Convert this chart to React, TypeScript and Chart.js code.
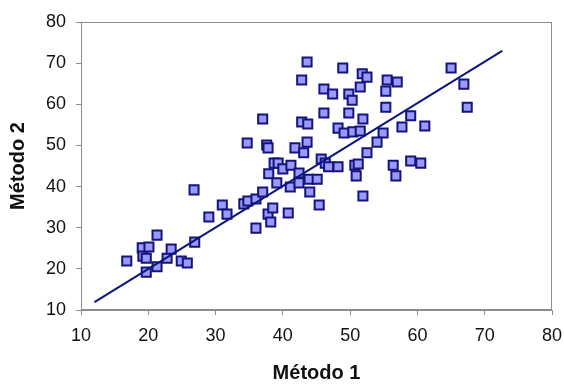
import React, { useEffect, useRef } from "react";
import { Chart, registerables } from "chart.js";

Chart.register(...registerables);

// Método 1 values (x) and Método 2 values (y)
const metodo1: number[] = [
  16.8, 19.1, 19.2, 19.7, 20.1, 21.3, 19.7, 21.3, 22.8, 23.4, 24.9, 25.8, 26.9, 26.8, 29.0,
  31.0, 31.7, 34.2, 34.8, 36.0, 37.0, 36.0, 37.8, 38.5, 38.2, 40.8, 37.9, 39.1, 38.7, 39.3,
  40.0, 41.2, 41.1, 42.4, 42.4, 44.0, 43.9, 45.1, 45.4, 41.8, 43.1, 43.6, 37.6, 37.8, 34.7,
  37.0, 42.8, 43.7, 42.8, 43.6, 45.7, 46.3, 46.8, 48.2, 50.7, 51.2, 50.9, 52.5, 56.4, 56.8,
  59.0, 60.5, 51.9, 48.9, 51.8, 52.5, 51.5, 55.5, 57.0, 55.3, 65.0, 66.9, 67.4, 46.1, 47.4,
  49.8, 50.3, 46.1, 49.8, 51.9, 55.3, 59.0, 57.7, 61.1, 48.2, 49.1, 50.4, 51.5, 54.9, 54.0,
];
const metodo2: number[] = [
  21.9, 25.1, 23.1, 22.6, 25.3, 28.2, 19.2, 20.5, 22.6, 24.8, 21.9, 21.4, 26.5, 39.2, 32.6,
  35.5, 33.3, 35.8, 36.5, 37.0, 38.7, 29.9, 33.3, 34.8, 31.4, 33.6, 43.1, 40.9, 45.7, 45.7,
  44.3, 45.2, 39.9, 43.3, 40.9, 38.7, 41.8, 41.8, 35.5, 49.4, 48.2, 50.8, 50.1, 49.4, 50.6,
  56.4, 55.7, 55.2, 65.9, 70.3, 46.7, 45.7, 44.8, 44.8, 45.2, 45.5, 42.6, 48.2, 45.2, 42.6,
  46.2, 45.7, 37.7, 68.8, 67.4, 66.6, 64.2, 65.9, 65.4, 63.2, 68.8, 64.9, 59.3, 63.7, 62.5,
  62.5, 61.0, 57.9, 57.9, 56.4, 59.3, 57.2, 54.5, 54.7, 54.2, 53.0, 53.3, 53.5, 53.0, 50.8,
];
// fitted line end points
const lineX: number[] = [12, 72.6];
const lineY: number[] = [11.9, 73];

const axisTicks: number[] = [10, 20, 30, 40, 50, 60, 70, 80];

const framePlugin = {
  id: "frame",
  beforeDatasetsDraw(chart: any) {
    const { ctx, chartArea } = chart;
    ctx.save();
    ctx.strokeStyle = "#8c8c8c";
    ctx.lineWidth = 1;
    ctx.strokeRect(chartArea.left + 0.5, chartArea.top + 0.5, chartArea.right - chartArea.left - 1, chartArea.bottom - chartArea.top - 1);
    ctx.restore();
  },
};

export default function App() {
  const ref = useRef<HTMLCanvasElement | null>(null);
  useEffect(() => {
    document.body.style.margin = "0";
    if (!ref.current) return;
    const pts = metodo1.map((x, i) => ({ x, y: metodo2[i] }));
    const linePts = lineX.map((x, i) => ({ x, y: lineY[i] }));
    const tickFont = { family: "'Liberation Sans', Arial, sans-serif", size: 18 };
    const titleFont = { family: "'Liberation Sans', Arial, sans-serif", size: 20, weight: "bold" as const };
    const chart = new Chart(ref.current, {
      type: "scatter",
      data: {
        datasets: [
          {
            label: "line",
            data: linePts,
            showLine: true,
            borderColor: "#0b1580",
            borderWidth: 2,
            pointRadius: 0,
            fill: false,
          },
          {
            label: "data",
            data: pts,
            pointStyle: "rect",
            pointRadius: 6.4,
            pointBorderWidth: 2,
            backgroundColor: "#9999ff",
            borderColor: "#14147a",
            pointHoverRadius: 6.4,
          },
        ],
      },
      options: {
        animation: false,
        responsive: false,
        events: [],
        layout: { padding: { top: 22, right: 12, left: 0, bottom: 0 } },
        plugins: { legend: { display: false }, tooltip: { enabled: false } },
        scales: {
          x: {
            type: "linear",
            min: 10,
            max: 80,
            afterBuildTicks: (s: any) => { s.ticks = axisTicks.map((v) => ({ value: v })); },
            afterFit: (s: any) => { s.height = 75; s.paddingLeft = 0; s.paddingRight = 0; },
            grid: { drawOnChartArea: false, drawTicks: true, tickLength: 5, color: "#8c8c8c" },
            border: { display: true, color: "#8c8c8c" },
            ticks: { color: "#111", font: tickFont, padding: 10, maxRotation: 0, autoSkip: false },
            title: { display: true, text: "Método 1", color: "#111", font: titleFont, padding: { top: 0, bottom: 0 } },
          },
          y: {
            type: "linear",
            min: 10,
            max: 80,
            afterBuildTicks: (s: any) => { s.ticks = axisTicks.map((v) => ({ value: v })); },
            afterFit: (s: any) => { s.width = 81; s.paddingTop = 0; s.paddingBottom = 0; },
            grid: { drawOnChartArea: false, drawTicks: true, tickLength: 5, color: "#8c8c8c" },
            border: { display: true, color: "#8c8c8c" },
            ticks: { color: "#111", font: tickFont, padding: 10, autoSkip: false },
            title: { display: true, text: "Método 2", color: "#111", font: titleFont, padding: { top: 6, bottom: 0 } },
          },
        },
      },
      plugins: [framePlugin],
    });
    return () => chart.destroy();
  }, []);
  return (
    <div style={{ width: 564, height: 385, background: "#fff" }}>
      <canvas ref={ref} width={564} height={385} style={{ display: "block", width: 564, height: 385 }} />
    </div>
  );
}
